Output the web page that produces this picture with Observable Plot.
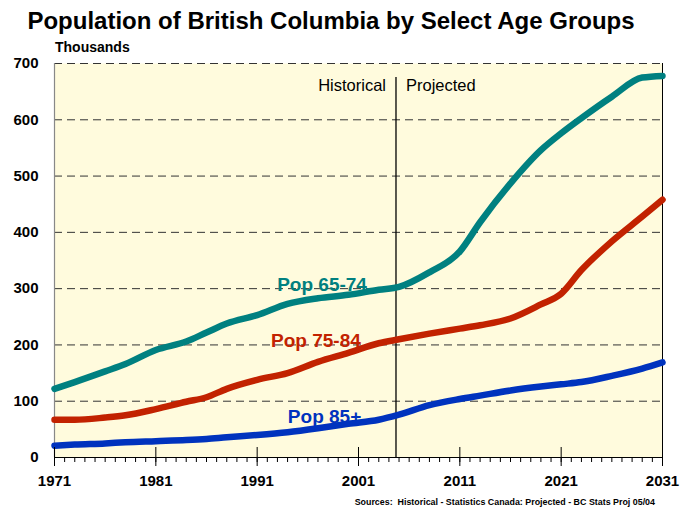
<!DOCTYPE html>
<html>
<head>
<meta charset="utf-8">
<script src="https://cdn.jsdelivr.net/npm/d3@7"></script>
<script src="https://cdn.jsdelivr.net/npm/@observablehq/plot@0.6"></script>
<style>
  html, body { margin: 0; padding: 0; background: #fff; }
  #wrap { position: relative; width: 681px; height: 508px; font-family: "Liberation Sans", Arial, sans-serif; }
  #title { position: absolute; left: 0; width: 662px; top: 7px; text-align: center; font-weight: bold; font-size: 24px; color: #000; white-space: nowrap; }
  #units { position: absolute; left: 55px; top: 39px; font-weight: bold; font-size: 14px; color: #000; }
  #source { position: absolute; right: 26px; top: 497px; font-weight: bold; font-size: 8.9px; color: #000; white-space: pre; }
  #chart { position: absolute; left: 0; top: 0; }
</style>
</head>
<body>
<div id="wrap">
  <div id="chart"></div>
  <div id="title">Population of British Columbia by Select Age Groups</div>
  <div id="units">Thousands</div>
  <div id="source">Sources:  Historical - Statistics Canada: Projected - BC Stats Proj 05/04</div>
</div>
<script>
const years = [1971, 1973, 1976, 1978, 1981, 1984, 1986, 1988, 1991, 1994, 1997, 2000, 2003, 2005, 2008, 2011, 2013, 2016, 2019, 2021, 2023, 2026, 2029, 2031];
const pop6574 = [122, 134, 153, 166, 191, 206, 222, 238, 253, 273, 283, 289, 298, 303, 329, 366, 418, 487, 546, 576, 603, 641, 675, 678];
const pop7584 = [67, 67, 71, 75, 86, 99, 107, 122, 138, 150, 170, 186, 203, 210, 220, 229, 235, 247, 272, 291, 333, 384, 428, 458];
const pop85 = [21, 23, 25, 27, 29, 31, 33, 36, 40, 45, 52, 60, 67, 76, 93, 104, 110, 119, 126, 130, 134, 145, 158, 169];

const seriesNames = ["Pop 65-74", "Pop 75-84", "Pop 85+"];
const seriesColors = ["#008080", "#C22200", "#0033BE"];
const seriesValues = [pop6574, pop7584, pop85];

// label anchor positions (year, value)
const labelYears = [1997.4, 1996.8, 1997.65];
const labelValues = [307, 208, 73];

const yTicks = [0, 100, 200, 300, 400, 500, 600, 700];
const gridValues = [100, 200, 300, 400, 500, 600, 700];
const majorYears = [1971, 1981, 1991, 2001, 2011, 2021, 2031];
const allYears = d3.range(1971, 2032);
const dividerYear = 2004.7;
const dividerTop = 675;
const phaseLabelValue = 660;

const data = [];
seriesNames.forEach((name, i) => {
  years.forEach((yr, j) => data.push({series: name, year: yr, value: seriesValues[i][j]}));
});
const labels = seriesNames.map((name, i) => ({series: name, year: labelYears[i], value: labelValues[i]}));

const chart = Plot.plot({
  width: 681,
  height: 508,
  marginTop: 63,
  marginBottom: 51,
  marginLeft: 54,
  marginRight: 19,
  style: {fontFamily: "Liberation Sans, Arial, sans-serif", background: "transparent", overflow: "visible"},
  x: {domain: [1971, 2031]},
  y: {domain: [0, 700]},
  color: {domain: seriesNames, range: seriesColors},
  marks: [
    Plot.frame({fill: "#FFFBDD", stroke: null}),
    Plot.ruleY(gridValues, {stroke: "#333", strokeDasharray: "8,5", strokeWidth: 1}),
    Plot.ruleX([1971], {stroke: "#888", strokeWidth: 1.2}),
    Plot.ruleX([2031], {stroke: "#000", strokeWidth: 1}),
    Plot.ruleY([0], {stroke: "#000", strokeWidth: 1.2}),
    Plot.ruleX([dividerYear], {y1: 0, y2: dividerTop, stroke: "#000", strokeWidth: 1.3}),
    Plot.text(["Historical"], {x: dividerYear, y: phaseLabelValue, text: d => d, textAnchor: "end", dx: -10, fontSize: 16.5, fill: "#000"}),
    Plot.text(["Projected"], {x: dividerYear, y: phaseLabelValue, text: d => d, textAnchor: "start", dx: 10, fontSize: 16.5, fill: "#000"}),
    Plot.line(data, {x: "year", y: "value", z: "series", stroke: "series", strokeWidth: 6.5, curve: "monotone-x", strokeLinecap: "round", strokeLinejoin: "round"}),
    Plot.text(labels, {x: "year", y: "value", text: "series", fill: "series", fontSize: 19, fontWeight: "bold", textAnchor: "middle"}),
    Plot.axisY({ticks: yTicks, tickSize: 0, tickPadding: 16, fontSize: 15, fontWeight: "bold", label: null, tickFormat: d => String(d), fill: "#000"}),
    Plot.axisX({ticks: allYears, tickSize: 5, text: null, label: null, stroke: "#000"}),
    Plot.axisX({ticks: majorYears, tickSize: -10, text: null, label: null, stroke: "#000"}),
    Plot.axisX({ticks: majorYears, tickSize: 9, tickPadding: 9, fontSize: 15, fontWeight: "bold", label: null, tickFormat: d => String(d), stroke: "#000", fill: "#000"})
  ]
});
document.getElementById("chart").appendChild(chart);
</script>
</body>
</html>
